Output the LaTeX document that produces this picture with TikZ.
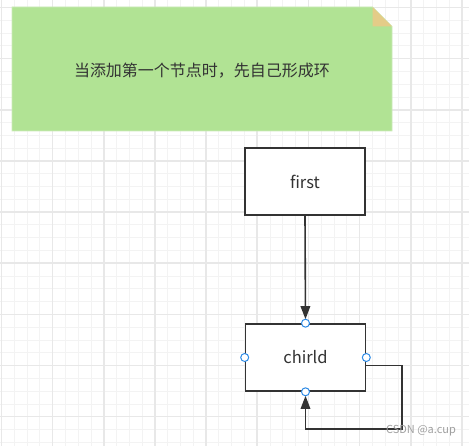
\documentclass[tikz,border=0pt]{standalone}
\usepackage{fontspec}
\newfontfamily\cjk{Noto Sans CJK SC}
\usetikzlibrary{arrows.meta, calc}

\definecolor{notegreen}{HTML}{B1E394}
\definecolor{noteedge}{HTML}{CDEBBA}
\definecolor{notefold}{HTML}{E4CC88}
\definecolor{inkgray}{HTML}{333333}
\definecolor{portblue}{HTML}{2E8BE6}
\definecolor{gridminor}{HTML}{F3F3F3}
\definecolor{gridmajor}{HTML}{E8E8E8}

\tikzset{
    minorline/.style={gridminor, line width=0.9pt},
    majorline/.style={gridmajor, line width=1.6pt},
    listbox/.style={draw=inkgray, line width=1.6pt, fill=white, minimum width=120pt,
        minimum height=67pt, inner sep=0pt, text=inkgray, font=\cjk\fontsize{16.5}{19}\selectfont},
    flowline/.style={inkgray, line width=1.6pt, shorten >=4pt,
        -{Triangle[length=13pt, width=9.5pt]}},
    port/.style={circle, draw=portblue, fill=white, line width=1pt, minimum size=8pt, inner sep=0pt},
    notetext/.style={text=inkgray, font=\cjk\fontsize{16}{19}\selectfont},
    wmark/.style={text=gray!75, font=\cjk\fontsize{11}{13}\selectfont}
}

\begin{document}
\begin{tikzpicture}[x=1pt, y=-1pt]
        \useasboundingbox (0,0) rectangle (469,446);
        \fill[white] (0,0) rectangle (469,446);

        % background grid
        \foreach \k in {-1,...,36}
            \draw[minorline] ({1.5+12.79*\k},0) -- ({1.5+12.79*\k},446);
        \foreach \k in {-1,...,34}
            \draw[minorline] (0,{7.5+12.79*\k}) -- (469,{7.5+12.79*\k});
        \foreach \k in {0,...,9}
            \draw[majorline] ({1.5+51.15*\k},0) -- ({1.5+51.15*\k},446);
        \foreach \k in {-1,...,8}
            \draw[majorline] (0,{7.5+51.15*\k}) -- (469,{7.5+51.15*\k});

        % note
        \filldraw[fill=notegreen, draw=noteedge, line width=0.8pt]
            (12,7) -- (372.5,7) -- (392,26.5) -- (392,131) -- (12,131) -- cycle;
        \fill[notefold] (372.5,7) -- (372.5,26.5) -- (392,26.5) -- cycle;
        \node[notetext] (tip) at (202,70.5) {当添加第一个节点时，先自己形成环};

        \node[listbox] (first) at (305,181.5) {first};
        \node[listbox] (chirld) at (305.5,357.5) {chirld};

        \coordinate (loop) at (402,429);

        \draw[flowline] (first.south) -- (chirld.north);
        \draw[flowline] ([yshift=-8pt]chirld.east) -| (loop) -| (chirld.south);

        \foreach \a in {north,south,east,west}
            \node[port] (p-\a) at (chirld.\a) {};

        \node[wmark] (csdn) at (421,431) {CSDN @a.cup};
\end{tikzpicture}
\end{document}
